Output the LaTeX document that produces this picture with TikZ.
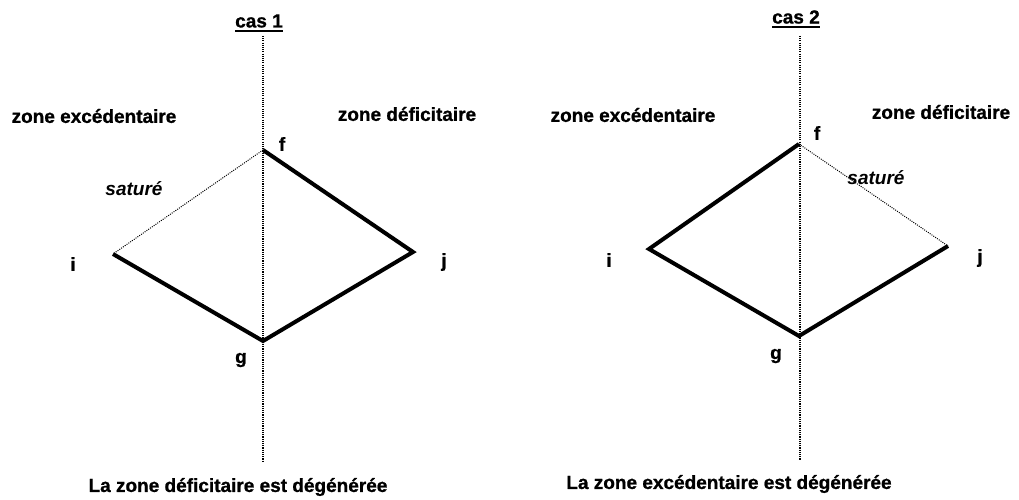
\documentclass[tikz,border=0pt]{standalone}
\usepackage{fontspec}
\setmainfont{Liberation Sans}[BoldFeatures={FakeBold=1}]
\usetikzlibrary{calc}
\tikzset{
  lbl/.style={font=\fontsize{19}{21}\selectfont\bfseries, inner sep=0pt, anchor=center},
  slbl/.style={font=\fontsize{19}{21}\selectfont\bfseries\itshape, inner sep=0pt, anchor=center},
  axisline/.style={line width=1.1pt, dash pattern=on 1.1pt off 1.1pt},
  satline/.style={line width=1pt, dash pattern=on 1pt off 1.2pt},
  heavy/.style={line width=4pt, line join=miter, line cap=butt},
  uline/.style={line width=1.6pt}
}
\begin{document}
\begin{tikzpicture}[x=1pt,y=-1pt]
\useasboundingbox (0,0) rectangle (1019,500);
% ---------- cas 1 ----------
\coordinate (a1t) at (263,36);
\coordinate (a1b) at (263,462);
\coordinate (f1) at (263,150);
\coordinate (i1) at (113,254);
\coordinate (j1) at (413,252);
\coordinate (g1) at (263,341);
\draw[axisline] (a1t) -- (a1b);
\draw[satline] (f1) -- (i1);
\draw[heavy] (f1) -- (j1) -- (g1) -- (i1);
\node[lbl] (c1) at (259,21) {cas 1};
\draw[uline] ($(c1.south west)+(0,3)$) -- ($(c1.south east)+(0,3)$);
\node[lbl] (ze1) at (94,116) {zone excédentaire};
\node[lbl] (zd1) at (407,114) {zone déficitaire};
\node[slbl] (s1) at (134,189) {saturé};
\node[lbl] (lf1) at (282,144) {f};
\node[lbl] (li1) at (73,264) {i};
\node[lbl] (lj1) at (444,262) {j};
\node[lbl] (lg1) at (241,360) {g};
\node[lbl] (b1) at (238,487) {La zone déficitaire est dégénérée};
% ---------- cas 2 ----------
\coordinate (a2t) at (800,36);
\coordinate (a2b) at (800,460);
\coordinate (f2) at (799,144);
\coordinate (i2) at (649,249);
\coordinate (j2) at (948,246);
\coordinate (g2) at (799,336);
\draw[axisline] (a2t) -- (a2b);
\draw[satline] (f2) -- (j2);
\draw[heavy] (f2) -- (i2) -- (g2) -- (j2);
\node[lbl] (c2) at (796,17) {cas 2};
\draw[uline] ($(c2.south west)+(0,3)$) -- ($(c2.south east)+(0,3)$);
\node[lbl] (ze2) at (633,115) {zone excédentaire};
\node[lbl] (zd2) at (941,112) {zone déficitaire};
\node[slbl] (s2) at (876,178) {saturé};
\node[lbl] (lf2) at (817,133) {f};
\node[lbl] (li2) at (609,260) {i};
\node[lbl] (lj2) at (980,258) {j};
\node[lbl] (lg2) at (776,356) {g};
\node[lbl] (b2) at (729,484) {La zone excédentaire est dégénérée};
\end{tikzpicture}
\end{document}
